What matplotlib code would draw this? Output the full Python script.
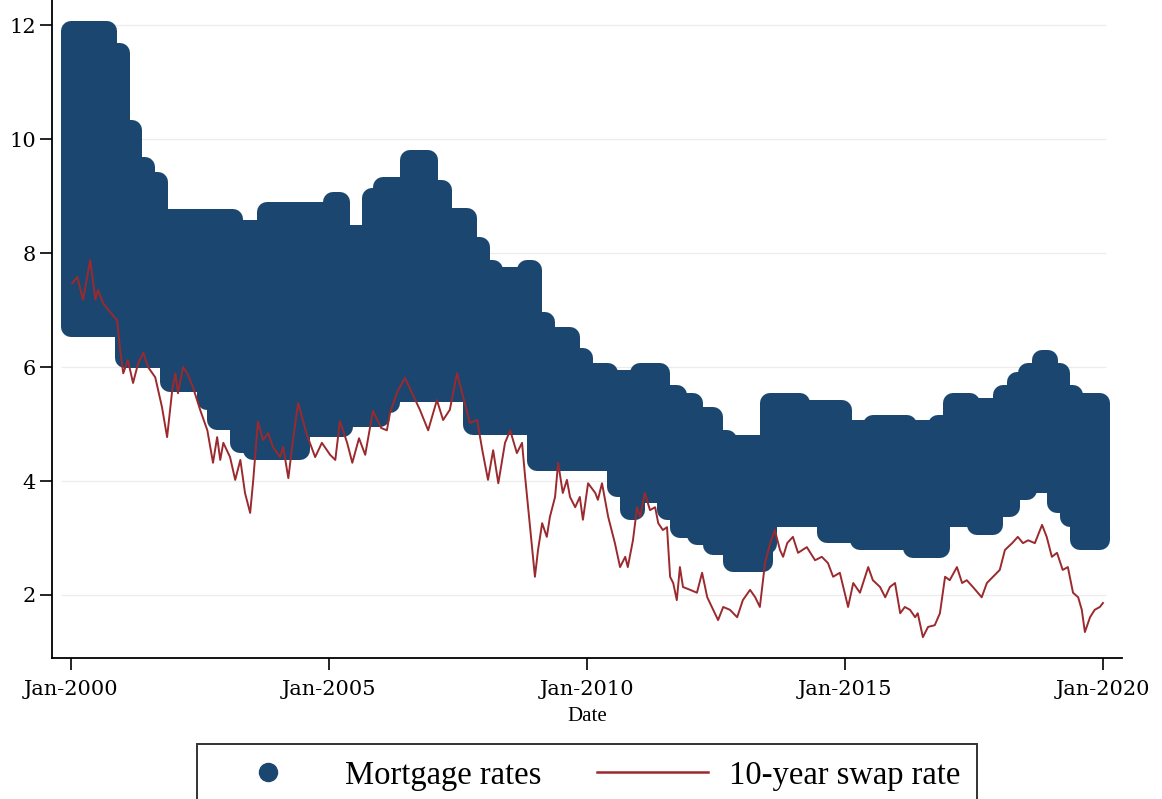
import numpy as np
import matplotlib
matplotlib.use("Agg")
import matplotlib.pyplot as plt
from matplotlib.lines import Line2D

plt.rcParams['font.family'] = ['Liberation Serif', 'DejaVu Serif']

# mortgage rates: band of offered rates, upper / lower envelope (step starts, decimal year)
hi_start = [2000.00, 2000.70, 2000.95, 2001.18, 2001.43, 2001.69, 2003.14, 2003.80,
            2005.08, 2005.21, 2005.83, 2006.05, 2006.57, 2006.92, 2007.19, 2007.67,
            2007.93, 2008.18, 2008.84, 2008.93, 2009.19, 2009.67, 2009.92, 2010.41,
            2011.03, 2011.41, 2011.74, 2012.05, 2012.44, 2012.71, 2013.55, 2014.13,
            2014.94, 2015.54, 2016.20, 2016.80, 2017.09, 2017.42, 2018.06, 2018.33,
            2018.55, 2018.82, 2018.93, 2019.17, 2019.42]
hi_rate = [11.90, 11.51, 10.16, 9.51, 9.25, 8.60, 8.40, 8.72,
           8.89, 8.32, 8.96, 9.16, 9.63, 9.11, 8.61, 8.11,
           7.70, 7.58, 7.70, 6.79, 6.53, 6.16, 5.89, 5.77,
           5.89, 5.51, 5.37, 5.12, 4.72, 4.63, 5.37, 5.25,
           4.89, 4.98, 4.89, 4.98, 5.37, 5.28, 5.51, 5.74,
           5.89, 6.12, 5.89, 5.51, 5.37]
lo_start = [2000.00, 2001.05, 2001.92, 2002.64, 2002.83, 2003.28, 2003.53, 2004.44,
            2005.27, 2005.99, 2006.18, 2007.79, 2009.03, 2010.58, 2010.83, 2010.93,
            2011.55, 2011.80, 2012.13, 2012.44, 2012.83, 2013.41, 2013.49, 2014.65,
            2015.29, 2016.32, 2016.84, 2017.56, 2017.87, 2018.20, 2018.53, 2019.11,
            2019.36, 2019.55]
lo_rate = [6.70, 6.16, 5.74, 5.42, 5.07, 4.67, 4.54, 4.95,
           5.12, 5.37, 5.56, 4.98, 4.35, 3.89, 3.49, 3.79,
           3.49, 3.18, 3.05, 2.88, 2.58, 2.90, 3.37, 3.09,
           2.96, 2.82, 3.37, 3.23, 3.54, 3.84, 3.96, 3.61,
           3.37, 2.96]
band_end = 2019.94

# 10-year swap rate
swap_date = [2000.02, 2000.12, 2000.23, 2000.37, 2000.47, 2000.52, 2000.62, 2000.76, 2000.89, 2000.95,
             2001.01, 2001.10, 2001.20, 2001.30, 2001.40, 2001.49, 2001.63, 2001.76, 2001.86, 2001.96,
             2002.02, 2002.07, 2002.17, 2002.25, 2002.36, 2002.50, 2002.64, 2002.75, 2002.83, 2002.89,
             2002.95, 2003.08, 2003.18, 2003.28, 2003.37, 2003.47, 2003.53, 2003.62, 2003.72, 2003.82,
             2003.91, 2004.05, 2004.11, 2004.21, 2004.30, 2004.40, 2004.57, 2004.73, 2004.86, 2005.02,
             2005.12, 2005.21, 2005.35, 2005.45, 2005.58, 2005.70, 2005.85, 2006.01, 2006.12, 2006.18,
             2006.32, 2006.47, 2006.61, 2006.76, 2006.92, 2007.09, 2007.21, 2007.34, 2007.48, 2007.60,
             2007.73, 2007.87, 2007.97, 2008.08, 2008.18, 2008.28, 2008.41, 2008.51, 2008.64, 2008.74,
             2008.80, 2008.90, 2008.99, 2009.05, 2009.13, 2009.22, 2009.28, 2009.38, 2009.44, 2009.53,
             2009.61, 2009.67, 2009.77, 2009.86, 2009.92, 2010.02, 2010.16, 2010.21, 2010.29, 2010.41,
             2010.54, 2010.64, 2010.74, 2010.79, 2010.89, 2010.97, 2011.03, 2011.12, 2011.22, 2011.32,
             2011.38, 2011.47, 2011.55, 2011.61, 2011.67, 2011.74, 2011.80, 2011.86, 2012.00, 2012.13,
             2012.23, 2012.33, 2012.42, 2012.54, 2012.64, 2012.77, 2012.91, 2013.02, 2013.16, 2013.26,
             2013.35, 2013.45, 2013.55, 2013.64, 2013.74, 2013.80, 2013.88, 2013.99, 2014.09, 2014.26,
             2014.42, 2014.55, 2014.67, 2014.77, 2014.90, 2015.06, 2015.16, 2015.29, 2015.45, 2015.54,
             2015.68, 2015.78, 2015.87, 2015.97, 2016.07, 2016.16, 2016.26, 2016.36, 2016.41, 2016.51,
             2016.61, 2016.74, 2016.84, 2016.94, 2017.03, 2017.17, 2017.27, 2017.36, 2017.48, 2017.65,
             2017.75, 2017.87, 2018.00, 2018.10, 2018.24, 2018.35, 2018.45, 2018.55, 2018.68, 2018.82,
             2018.91, 2019.01, 2019.11, 2019.22, 2019.32, 2019.42, 2019.52, 2019.59, 2019.65, 2019.75,
             2019.84, 2019.94, 2020.00]
swap_rate = [7.47, 7.58, 7.18, 7.88, 7.18, 7.35, 7.12, 6.96, 6.82, 6.30,
             5.89, 6.12, 5.72, 6.07, 6.25, 6.00, 5.82, 5.30, 4.77, 5.60,
             5.89, 5.54, 6.00, 5.89, 5.65, 5.25, 4.89, 4.32, 4.77, 4.37,
             4.67, 4.42, 4.02, 4.37, 3.79, 3.44, 4.02, 5.04, 4.72, 4.84,
             4.60, 4.42, 4.60, 4.05, 4.72, 5.37, 4.81, 4.42, 4.67, 4.46,
             4.37, 5.05, 4.67, 4.32, 4.75, 4.46, 5.23, 4.93, 4.89, 5.19,
             5.56, 5.81, 5.54, 5.25, 4.89, 5.42, 5.07, 5.25, 5.89, 5.47,
             5.02, 5.07, 4.54, 4.02, 4.54, 3.96, 4.67, 4.89, 4.49, 4.67,
             4.07, 3.14, 2.32, 2.79, 3.26, 3.02, 3.37, 3.72, 4.32, 3.79,
             4.02, 3.72, 3.54, 3.72, 3.32, 3.96, 3.79, 3.67, 3.96, 3.37,
             2.91, 2.49, 2.67, 2.49, 2.96, 3.54, 3.37, 3.79, 3.49, 3.54,
             3.26, 3.14, 3.19, 2.32, 2.21, 1.91, 2.49, 2.14, 2.09, 2.04,
             2.39, 1.96, 1.79, 1.56, 1.79, 1.74, 1.61, 1.91, 2.09, 1.96,
             1.79, 2.56, 2.91, 3.14, 2.79, 2.67, 2.91, 3.02, 2.74, 2.84,
             2.61, 2.67, 2.56, 2.32, 2.39, 1.79, 2.21, 2.04, 2.49, 2.26,
             2.14, 1.96, 2.14, 2.21, 1.68, 1.79, 1.74, 1.61, 1.68, 1.26,
             1.44, 1.47, 1.68, 2.32, 2.26, 2.49, 2.21, 2.26, 2.14, 1.96,
             2.21, 2.32, 2.44, 2.79, 2.91, 3.02, 2.91, 2.96, 2.91, 3.23,
             3.02, 2.67, 2.74, 2.44, 2.49, 2.04, 1.96, 1.74, 1.35, 1.61,
             1.74, 1.79, 1.86]

xtick_pos = [2000, 2005, 2010, 2015, 2020]
xtick_lab = ['Jan-2000', 'Jan-2005', 'Jan-2010', 'Jan-2015', 'Jan-2020']
ytick_pos = [2, 4, 6, 8, 10, 12]

navy = '#1b466f'
maroon = '#9b2a2e'


def step_xy(starts, vals, end):
    # turn step series into polygon vertices
    edges = list(starts[1:]) + [end]
    xs, ys = [], []
    for s, e, v in zip(starts, edges, vals):
        xs += [s, e]
        ys += [v, v]
    return xs, ys


fig = plt.figure(figsize=(11.62, 7.99), dpi=100)
ax = fig.add_axes([0.0448, 0.1765, 0.9208, 0.8235])

# faint grid
ax.hlines(ytick_pos, 1999.8, 2020.05, colors='#ececec', lw=0.9, zorder=0)

# mortgage band (big overlapping dots -> thick rounded outline)
ux, uy = step_xy(hi_start, hi_rate, band_end)
lx, ly = step_xy(lo_start, lo_rate, band_end)
px = ux + lx[::-1]
py = uy + ly[::-1]
ax.fill(px, py, facecolor=navy, edgecolor=navy, lw=14.4, joinstyle='round', zorder=2)

ax.plot(swap_date, swap_rate, color=maroon, lw=1.4, zorder=3)

ax.set_xlim(1999.63, 2020.37)
ax.set_ylim(0.895, 12.44)
ax.set_xticks(xtick_pos)
ax.set_xticklabels(xtick_lab)
ax.set_yticks(ytick_pos)
for lab in ax.get_xticklabels() + ax.get_yticklabels():
    lab.set_fontfamily(['DejaVu Serif'])
    lab.set_fontsize(15)
ax.tick_params(axis='both', direction='out', length=8.5, width=1.2, colors='black')
ax.tick_params(axis='x', pad=7)
ax.tick_params(axis='y', pad=3)
for s in ['top', 'right']:
    ax.spines[s].set_visible(False)
for s in ['left', 'bottom']:
    ax.spines[s].set_linewidth(1.3)
ax.set_xlabel('Date', fontsize=15, labelpad=6)

handles = [Line2D([], [], ls='none', marker='o', markersize=13, color=navy),
           Line2D([], [], color=maroon, lw=1.8)]
leg = fig.legend(handles, ['Mortgage rates', '10-year swap rate'], ncol=2,
                 loc='upper center', bbox_to_anchor=(0.505, 0.069), fontsize=23.5,
                 frameon=True, fancybox=False, edgecolor='black', handlelength=3.4,
                 handletextpad=0.65, columnspacing=1.7, borderpad=0.5, borderaxespad=0)
leg.get_frame().set_linewidth(1.4)

fig.savefig('out.png', dpi=100)
